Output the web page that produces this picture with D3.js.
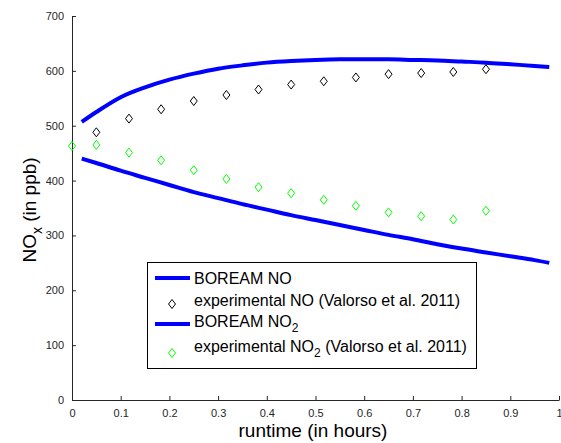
<!DOCTYPE html>
<html>
<head>
<meta charset="utf-8">
<script src="https://cdnjs.cloudflare.com/ajax/libs/d3/7.8.5/d3.min.js"></script>
<style>
body { margin: 0; background: #fff; }
text { font-family: "Liberation Sans", Arial, sans-serif; }
</style>
</head>
<body>
<script>
// model curves (BOREAM)
var modelX = [0.02, 0.05, 0.1, 0.15, 0.2, 0.25, 0.3, 0.35, 0.4, 0.45, 0.5, 0.55, 0.6, 0.65, 0.7, 0.75, 0.8, 0.85, 0.9, 0.95, 0.98];
var modelNO = [507, 525, 552, 570, 584, 595, 604, 610, 615, 618, 620, 621, 621, 621, 620, 619, 617, 615, 612, 609, 607];
var modelNO2 = [440, 432, 418, 405, 392, 379, 368, 357, 347, 337, 328, 319, 310, 301, 293, 284, 276, 269, 262, 255, 250];

// experimental (Valorso et al. 2011)
var expNOx = [0.05, 0.117, 0.183, 0.25, 0.317, 0.383, 0.45, 0.517, 0.583, 0.65, 0.717, 0.783, 0.85];
var expNO = [488, 513, 530, 545, 556, 566, 575, 581, 588, 594, 596, 598, 603];
var expNO2x = [0, 0.05, 0.117, 0.183, 0.25, 0.317, 0.383, 0.45, 0.517, 0.583, 0.65, 0.717, 0.783, 0.85];
var expNO2 = [463, 465, 451, 437, 419, 403, 388, 377, 365, 354, 342, 335, 329, 345];

var xTicks = [0, 0.1, 0.2, 0.3, 0.4, 0.5, 0.6, 0.7, 0.8, 0.9, 1];
var yTicks = [0, 100, 200, 300, 400, 500, 600, 700];

var svg = d3.select("body").append("svg").attr("width", 561).attr("height", 443);

var x = d3.scaleLinear().domain([0, 1]).range([72, 559]);
var y = d3.scaleLinear().domain([0, 700]).range([400, 16]);

// axes (ticks point inward like matlab)
var xAxis = svg.append("g").attr("transform", "translate(0,400)")
    .call(d3.axisBottom(x).tickValues(xTicks).tickSizeInner(-4).tickSizeOuter(0).tickPadding(9)
        .tickFormat(function(d) { return d === 0 || d === 1 ? d3.format("d")(d) : d3.format(".1f")(d); }));
var yAxis = svg.append("g").attr("transform", "translate(72,0)")
    .call(d3.axisLeft(y).tickValues(yTicks).tickSizeInner(-4).tickSizeOuter(0).tickPadding(8));
[xAxis, yAxis].forEach(function(a) {
    a.select(".domain").attr("stroke", "#262626");
    a.selectAll(".tick line").attr("stroke", "#262626");
    a.selectAll(".tick text").attr("fill", "#262626").style("font-size", "11px")
        .style("font-family", "'Liberation Sans', Arial, sans-serif");
});

// lines
var line = function(vals) {
    return d3.line().x(function(d, i) { return x(modelX[i]); }).y(function(d) { return y(d); })
        .curve(d3.curveMonotoneX)(vals);
};
svg.append("path").attr("d", line(modelNO)).attr("fill", "none").attr("stroke", "#0000ff").attr("stroke-width", 4);
svg.append("path").attr("d", line(modelNO2)).attr("fill", "none").attr("stroke", "#0000ff").attr("stroke-width", 4);

// diamond marker
var diamond = function(cx, cy) {
    return "M" + cx + "," + (cy - 4.5) + "L" + (cx + 3.5) + "," + cy + "L" + cx + "," + (cy + 4.5) + "L" + (cx - 3.5) + "," + cy + "Z";
};
svg.selectAll(".dno").data(expNO).enter().append("path")
    .attr("d", function(d, i) { return diamond(x(expNOx[i]), y(d)); })
    .attr("fill", "none").attr("stroke", "#000").attr("stroke-width", 1);
svg.selectAll(".dno2").data(expNO2).enter().append("path")
    .attr("d", function(d, i) { return diamond(x(expNO2x[i]), y(d)); })
    .attr("fill", "none").attr("stroke", "#00ff00").attr("stroke-width", 1);

// axis labels
svg.append("text").attr("x", 313).attr("y", 437).attr("text-anchor", "middle")
    .style("font-size", "19px").attr("fill", "#000").text("runtime (in hours)");
var yl = svg.append("text").attr("transform", "translate(36,210) rotate(-90)").attr("text-anchor", "middle")
    .style("font-size", "19px").attr("fill", "#000");
yl.append("tspan").text("NO");
yl.append("tspan").attr("dy", 6).style("font-size", "14px").text("x");
yl.append("tspan").attr("dy", -6).text(" (in ppb)");

// legend
var lg = svg.append("g");
lg.append("rect").attr("x", 147.5).attr("y", 262.5).attr("width", 329).attr("height", 106)
    .attr("fill", "#fff").attr("stroke", "#000").attr("stroke-width", 1);
lg.append("line").attr("x1", 155).attr("x2", 190).attr("y1", 278).attr("y2", 278).attr("stroke", "#0000ff").attr("stroke-width", 4);
lg.append("text").attr("x", 194).attr("y", 284).style("font-size", "16px").text("BOREAM NO");
lg.append("path").attr("d", diamond(172, 304)).attr("fill", "none").attr("stroke", "#000");
lg.append("text").attr("x", 194).attr("y", 306).style("font-size", "16px").text("experimental NO (Valorso et al. 2011)");
lg.append("line").attr("x1", 155).attr("x2", 190).attr("y1", 324).attr("y2", 324).attr("stroke", "#0000ff").attr("stroke-width", 4);
var t3 = lg.append("text").attr("x", 194).attr("y", 327).style("font-size", "16px");
t3.append("tspan").text("BOREAM NO");
t3.append("tspan").attr("dy", 5).style("font-size", "12px").text("2");
lg.append("path").attr("d", diamond(172, 353)).attr("fill", "none").attr("stroke", "#00ff00");
var t4 = lg.append("text").attr("x", 194).attr("y", 352).style("font-size", "16px");
t4.append("tspan").text("experimental NO");
t4.append("tspan").attr("dy", 5).style("font-size", "12px").text("2");
t4.append("tspan").attr("dy", -5).text(" (Valorso et al. 2011)");
</script>
</body>
</html>
